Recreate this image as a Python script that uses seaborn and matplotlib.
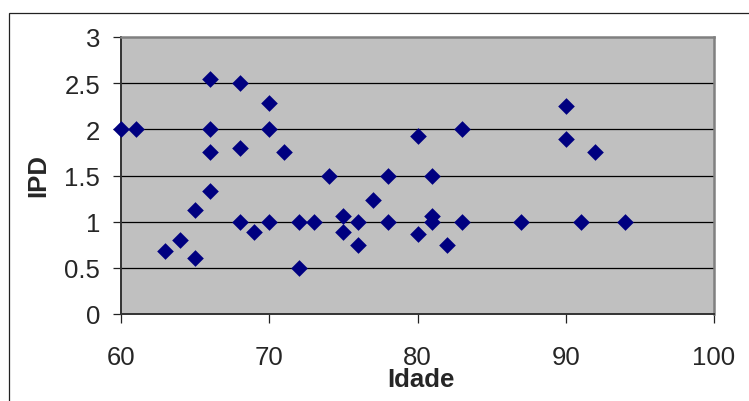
import matplotlib
matplotlib.use("Agg")
import matplotlib.pyplot as plt
import seaborn as sns
import pandas as pd
from matplotlib.patches import Rectangle

# Dados (idade x IPD)
idade = [60, 61, 63, 64, 65, 65, 66, 66, 66, 66, 68, 68, 68, 69, 70, 70, 70,
         71, 72, 72, 73, 74, 75, 75, 76, 76, 77, 78, 78, 80, 80, 81, 81, 81,
         82, 83, 83, 87, 90, 90, 91, 92, 94]
ipd = [2.0, 2.0, 0.68, 0.80, 0.61, 1.13, 2.55, 2.0, 1.75, 1.33, 2.5, 1.80, 1.0,
       0.89, 2.28, 2.0, 1.0, 1.75, 1.0, 0.5, 1.0, 1.5, 1.06, 0.89, 1.0, 0.75,
       1.23, 1.5, 1.0, 1.93, 0.87, 1.5, 1.06, 1.0, 0.75, 2.0, 1.0, 1.0, 2.25,
       1.90, 1.0, 1.75, 1.0]
xticks = [60, 70, 80, 90, 100]
yticks = [0, 0.5, 1, 1.5, 2, 2.5, 3]

dados = pd.DataFrame({"Idade": idade, "IPD": ipd})

sns.set_theme(style="white")
plt.rcParams["font.family"] = ["Liberation Sans", "DejaVu Sans"]

fig = plt.figure(figsize=(7.49, 4.02), dpi=100)
ax = fig.add_axes([121 / 749, 1 - 315 / 402, (714 - 121) / 749, (315 - 38) / 402])

# Moldura externa do grafico
fig.patches.append(Rectangle((9 / 749, -0.2), 1.2, 1.2 - 14 / 402,
                             transform=fig.transFigure, fill=False,
                             edgecolor="#222222", linewidth=0.9))

ax.set_facecolor("#C0C0C0")
ax.set_axisbelow(True)
for y in yticks[1:-1]:
    ax.axhline(y, color="black", linewidth=0.9, zorder=0.5)

sns.scatterplot(data=dados, x="Idade", y="IPD", marker="D", color="#000080",
                s=72, linewidth=0, ax=ax, zorder=3, clip_on=False)

ax.set_xlim(60, 100)
ax.set_ylim(0, 3)
ax.set_xticks(xticks)
ax.set_yticks(yticks)
ax.set_yticklabels(["0", "0.5", "1", "1.5", "2", "2.5", "3"])
ax.tick_params(axis="x", direction="out", length=6.5, width=0.9,
               color="#222222", pad=16, labelsize=18.5, bottom=True)
ax.tick_params(axis="y", direction="out", length=6, width=0.9,
               color="#222222", pad=9, labelsize=18.5, left=True)

for lado in ["top", "right"]:
    ax.spines[lado].set_color("#808080")
    ax.spines[lado].set_linewidth(1.8)
for lado in ["left", "bottom"]:
    ax.spines[lado].set_color("#333333")
    ax.spines[lado].set_linewidth(1.4)

ax.set_xlabel("")
ax.set_ylabel("")
fig.text(421 / 749, 1 - 387 / 402, "Idade", fontsize=18.5, fontweight="bold",
         ha="center", va="baseline")
fig.text(45 / 749, 1 - 176 / 402, "IPD", fontsize=18.5, fontweight="bold",
         ha="center", va="baseline", rotation=90, rotation_mode="anchor")

fig.savefig("out.png", dpi=100)
